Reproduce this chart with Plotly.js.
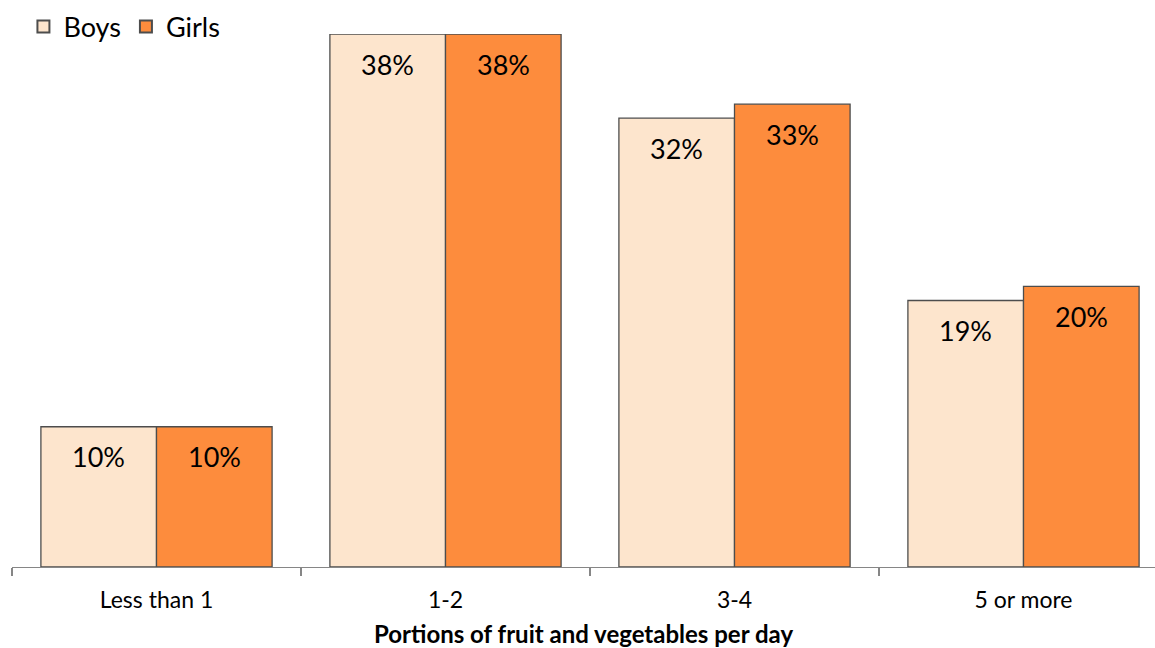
<!DOCTYPE html>
<html>
<head>
<meta charset="utf-8">
<script src="https://cdn.plot.ly/plotly-3.0.1.min.js"></script>
<style>
  html, body { margin: 0; padding: 0; background: #fff; }
  #chart { width: 1155px; height: 648px; }
</style>
</head>
<body>
<div id="chart"></div>
<script>
// Portions of fruit and vegetables eaten per day, by sex (%)
const categories = ["Less than 1", "1-2", "3-4", "5 or more"];
const boys = [10, 38, 32, 19];
const girls = [10, 38, 33, 20];
const seriesNames = ["Boys", "Girls"];
const xTitle = "Portions of fruit and vegetables per day";

const FONT = "Lato, 'Open Sans', sans-serif";
const colors = ["#FDE5CD", "#FD8C3D"];
const outline = { color: "#4d4d4d", width: 1.3 };

const traces = [boys, girls].map((vals, i) => ({
  type: "bar",
  name: seriesNames[i],
  x: categories,
  y: vals,
  marker: { color: colors[i], line: outline },
  hoverinfo: "x+y+name"
}));

// Value labels sit just inside the top of each bar
const halfBar = 57.75;
const annotations = [];
[boys, girls].forEach((vals, i) => {
  vals.forEach((v, j) => {
    annotations.push({
      x: categories[j], y: v, xref: "x", yref: "y",
      text: v + "%", showarrow: false,
      xshift: i === 0 ? -halfBar : halfBar,
      yshift: -30,
      font: { family: FONT, size: 27, color: "#000" }
    });
  });
});

const layout = {
  width: 1155, height: 648,
  margin: { l: 12, r: 0, t: 34, b: 81, autoexpand: false },
  paper_bgcolor: "#fff", plot_bgcolor: "#fff",
  barmode: "group", bargap: 0.2, bargroupgap: 0,
  showlegend: true,
  legend: {
    orientation: "h", x: 0.01, xanchor: "left", y: 1.013, yanchor: "middle",
    font: { family: FONT, size: 27, color: "#000" },
    itemsizing: "constant", traceorder: "normal",
    bgcolor: "rgba(0,0,0,0)"
  },
  xaxis: {
    type: "category",
    range: [-0.5, -0.5 + 1143 / 289],
    tickson: "boundaries",
    ticks: "outside", ticklen: 8, tickcolor: "#868686", tickwidth: 1.3,
    ticklabelstandoff: 12,
    showline: true, linecolor: "#868686", linewidth: 1.3,
    showgrid: false, zeroline: false,
    tickfont: { family: FONT, size: 23, color: "#000" },
    title: { text: "<b>" + xTitle + "</b>", font: { family: FONT, size: 24, color: "#000" }, standoff: 14 }
  },
  yaxis: {
    range: [0, 38], visible: false, showgrid: false, zeroline: false
  },
  annotations: annotations
};

Plotly.newPlot("chart", traces, layout, { displayModeBar: false, staticPlot: true });
</script>
</body>
</html>
